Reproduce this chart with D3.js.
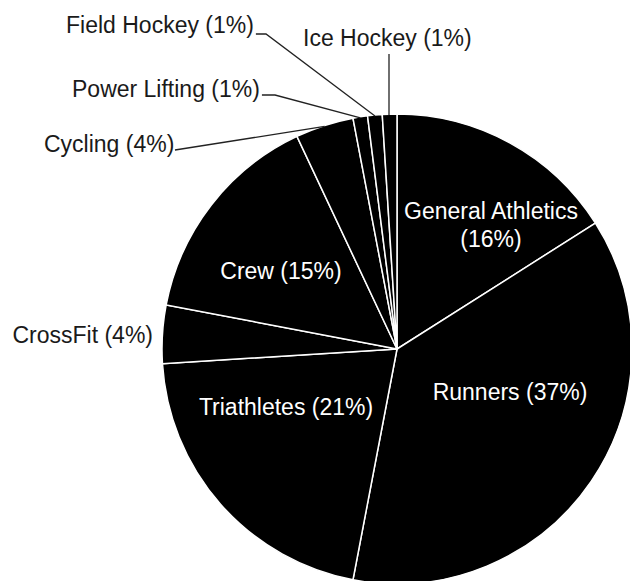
<!DOCTYPE html>
<html>
<head>
<meta charset="utf-8">
<script src="https://cdn.jsdelivr.net/npm/d3@7"></script>
<style>
  body { margin: 0; background: #fff; }
  text { font-family: "Liberation Sans", Arial, Helvetica, sans-serif; font-size: 23px; }
</style>
</head>
<body>
<div class="chart"></div>
<script>
// sports, in clockwise order from 12 o'clock
var sports = ['General Athletics', 'Runners', 'Triathletes', 'CrossFit', 'Crew',
	'Cycling', 'Power Lifting', 'Field Hockey', 'Ice Hockey'];

// share of athletes, percent
var shares = [16, 37, 21, 4, 15, 4, 1, 1, 1];

var width = 630, height = 581;
var cx = 397, cy = 349, radius = 235;

var svg = d3.select('.chart')
	.append('svg')
	.attr('width', width)
	.attr('height', height);

var g = svg.append('g')
	.attr('transform', 'translate(' + cx + ',' + cy + ')');

var pie = d3.pie().sort(null).value(function(d){ return d.value; });
var arc = d3.arc().innerRadius(0).outerRadius(radius);
var edge = d3.arc().innerRadius(radius - 1).outerRadius(radius - 1);

var data = sports.map(function(s, i){ return {name: s, value: shares[i]}; });
var arcs = pie(data);

g.selectAll('path.slice')
	.data(arcs)
	.enter().append('path')
	.attr('class', 'slice')
	.attr('d', arc)
	.style('fill', '#000')
	.style('stroke', '#fff')
	.style('stroke-width', 1.5);

// where each label sits (relative to pie centre), and for the outside ones an elbow
var labelPos = {
	'General Athletics': {x: 94, y: -130, inside: true, lines: ['General Athletics', '(16%)']},
	'Runners':           {x: 113, y: 51, inside: true},
	'Triathletes':       {x: -111, y: 66, inside: true},
	'Crew':              {x: -116, y: -70, inside: true},
	'CrossFit':          {x: -244, y: -6, anchor: 'end'},
	'Cycling':           {x: -353, y: -197, elbow: [-222, -199]},
	'Power Lifting':     {x: -325, y: -252, elbow: [-122, -254]},
	'Field Hockey':      {x: -331, y: -316, elbow: [-131, -315]},
	'Ice Hockey':        {x: -94, y: -303, elbow: [-8, -297]}
};

var label = g.selectAll('g.label')
	.data(arcs)
	.enter().append('g')
	.attr('class', 'label');

label.each(function(d){
	var p = labelPos[d.data.name];
	var el = d3.select(this);
	var txt = d.data.name + ' (' + d.data.value + '%)';
	if (p.inside) {
		var lines = p.lines || [txt];
		lines.forEach(function(l, i){
			el.append('text')
				.attr('x', p.x)
				.attr('y', p.y + i * 28)
				.attr('text-anchor', 'middle')
				.style('fill', '#fff')
				.text(l);
		});
		return;
	}
	var t = el.append('text')
		.attr('x', p.x)
		.attr('y', p.y)
		.attr('text-anchor', p.anchor || 'start')
		.style('fill', '#1a1a1a')
		.text(txt);
	if (!p.elbow) return;
	var c = edge.centroid(d);
	var bb = t.node().getBBox();
	var start;
	if (d.data.name == 'Ice Hockey') {
		start = [p.elbow[0], bb.y + bb.height + 3];
	} else {
		start = [bb.x + bb.width + 2, p.elbow[1]];
	}
	var pts = d.data.name == 'Ice Hockey' ? [start, [start[0], c[1]]] : [start, p.elbow, c];
	el.append('path')
		.attr('d', d3.line()(pts))
		.style('fill', 'none')
		.style('stroke', '#222')
		.style('stroke-width', 1.3);
});
</script>
</body>
</html>
